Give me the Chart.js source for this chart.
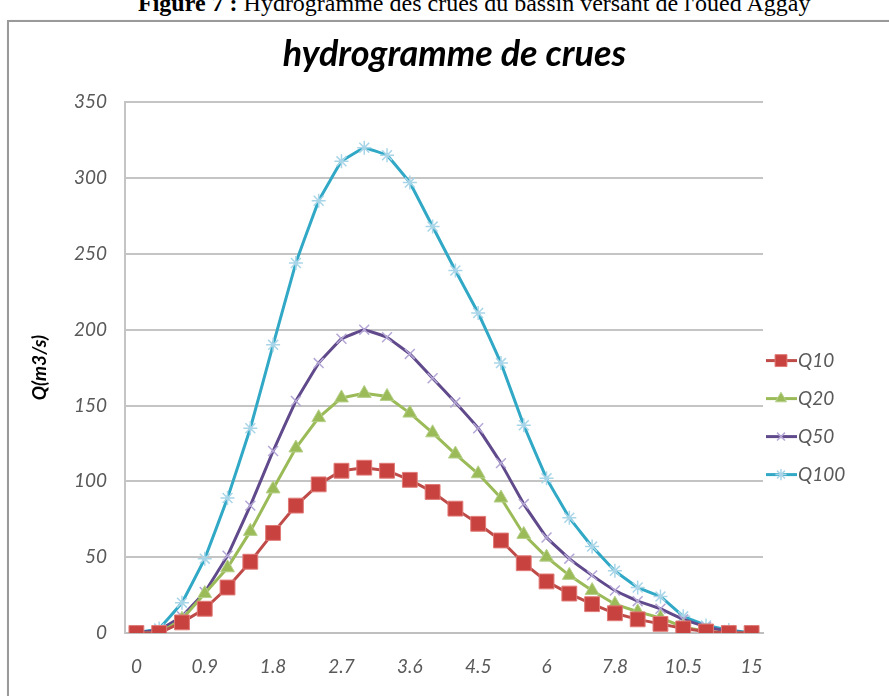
<!DOCTYPE html>
<html>
<head>
<meta charset="utf-8">
<script src="https://cdn.jsdelivr.net/npm/chart.js@4.4.1/dist/chart.umd.min.js"></script>
<style>
  html, body { margin: 0; padding: 0; background: #fff; overflow: hidden; }
  #caption {
    position: absolute; left: 138px; top: -9px;
    font-family: "Liberation Serif", serif; font-size: 24px; line-height: 24px;
    white-space: nowrap; color: #000;
  }
  #frame {
    position: absolute; left: 7px; top: 20px; width: 900px; height: 700px;
    border: 2px solid #9a9a9a; box-shadow: 1px 1px 2px #bbb;
  }
  #chart { position: absolute; left: 0; top: 0; }
</style>
</head>
<body>
<div id="caption"><b>Figure 7 :</b> Hydrogramme des crues du bassin versant de l'oued Aggay</div>
<div id="frame"></div>
<canvas id="chart" width="889" height="696"></canvas>
<script>
// temps (h) - une étiquette sur trois est affichée
var temps = ['0', '0.3', '0.6', '0.9', '1.2', '1.5', '1.8', '2.1', '2.4', '2.7', '3', '3.3', '3.6', '3.9',
             '4.2', '4.5', '5', '5.5', '6', '6.6', '7.2', '7.8', '8.7', '9.6', '10.5', '12', '13.5', '15'];

var q10  = [0, 0, 7, 16, 30, 47, 66, 84, 98, 107, 109, 107, 101, 93, 82, 72, 61, 46, 34, 26, 19, 13, 9, 6, 3, 1, 0, 0];
var q20  = [0, 0, 9, 26, 43, 67, 95, 122, 142, 155, 158, 156, 145, 132, 118, 105, 89, 65, 50, 38, 28, 19, 14, 10, 4, 1, 0, 0];
var q50  = [0, 2, 11, 27, 51, 84, 120, 153, 178, 194, 200, 195, 184, 168, 152, 135, 112, 85, 63, 49, 38, 28, 21, 16, 9, 4, 1, 0];
var q100 = [0, 3, 20, 49, 89, 135, 190, 244, 285, 311, 320, 315, 297, 268, 239, 211, 178, 137, 102, 76, 57, 41, 30, 24, 11, 5, 2, 0];

var font = 'Lato';
var gris = '#595959';

// legende facon Excel : trait + marqueur au milieu
var legendeExcel = {
    id: 'legendeExcel',
    afterDraw: function (chart) {
        var ctx = chart.ctx;
        var area = chart.chartArea;
        var sets = chart.data.datasets;
        var x0 = area.right + 3;
        var yMid = (area.top + area.bottom) / 2 + 50;
        var pas = 38;
        var y0 = yMid - pas * (sets.length - 1) / 2;
        ctx.save();
        sets.forEach(function (ds, i) {
            var y = y0 + i * pas;
            ctx.strokeStyle = ds.borderColor;
            ctx.lineWidth = 3;
            ctx.beginPath();
            ctx.moveTo(x0, y);
            ctx.lineTo(x0 + 31, y);
            ctx.stroke();
            ctx.fillStyle = ds.pointBackgroundColor;
            ctx.strokeStyle = ds.pointBorderColor;
            ctx.lineWidth = ds.pointBorderWidth;
            Chart.helpers.drawPoint(ctx, {
                pointStyle: ds.pointStyle, radius: ds.pointRadius * 0.8,
                rotation: 0, borderWidth: ds.pointBorderWidth
            }, x0 + 15, y);
            ctx.fillStyle = gris;
            ctx.font = 'italic 19px ' + font;
            ctx.textBaseline = 'middle';
            ctx.fillText(ds.label, x0 + 32, y);
        });
        ctx.restore();
    }
};

new Chart(document.getElementById('chart'), {
    type: 'line',
    data: {
        labels: temps,
        datasets: [
            {
                label: 'Q10',
                data: q10,
                borderColor: '#BE4B48',
                borderWidth: 3,
                pointStyle: 'rect',
                pointRadius: 10.5,
                pointBackgroundColor: '#C8433F',
                pointBorderColor: '#E07A77',
                pointBorderWidth: 1,
                tension: 0
            },
            {
                label: 'Q20',
                data: q20,
                borderColor: '#9BBB59',
                borderWidth: 3,
                pointStyle: 'triangle',
                pointRadius: 8,
                pointBackgroundColor: '#9BBB59',
                pointBorderColor: '#B5D08A',
                pointBorderWidth: 1,
                tension: 0
            },
            {
                label: 'Q50',
                data: q50,
                borderColor: '#604A8B',
                borderWidth: 3,
                pointStyle: 'crossRot',
                pointRadius: 7,
                pointBackgroundColor: '#B4A7D6',
                pointBorderColor: '#B4A7D6',
                pointBorderWidth: 1.5,
                tension: 0.05
            },
            {
                label: 'Q100',
                data: q100,
                borderColor: '#31A9C6',
                borderWidth: 3,
                pointStyle: 'star',
                pointRadius: 7,
                pointBackgroundColor: '#A9D5E8',
                pointBorderColor: '#A9D5E8',
                pointBorderWidth: 1.5,
                tension: 0.05
            }
        ]
    },
    options: {
        responsive: false,
        animation: false,
        layout: { padding: { left: 20, right: 0, top: 0, bottom: 14 } },
        plugins: {
            legend: { display: false },
            tooltip: { enabled: false },
            title: {
                display: true,
                text: 'hydrogramme de crues',
                color: '#000',
                font: { family: font, size: 36, weight: 'bold', style: 'italic' },
                padding: { top: 33, bottom: 26 }
            }
        },
        scales: {
            x: {
                offset: true,
                grid: { display: false, drawTicks: false },
                border: { display: true, color: '#BFBFBF', width: 2 },
                ticks: {
                    autoSkip: false,
                    maxRotation: 0,
                    padding: 22,
                    color: gris,
                    font: { family: font, size: 19, style: 'italic' },
                    callback: function (v, i) { return i % 3 === 0 ? temps[i] : ''; }
                },
                afterFit: function (s) { s.height = 49; }
            },
            y: {
                min: 0,
                max: 350,
                ticks: {
                    stepSize: 50,
                    padding: 18,
                    color: gris,
                    font: { family: font, size: 19, style: 'italic' }
                },
                grid: { color: '#C4C4C4', lineWidth: 2, drawTicks: false },
                border: { display: true, color: '#C4C4C4', width: 2 },
                title: {
                    display: true,
                    text: 'Q(m3/s)',
                    color: '#000',
                    font: { family: font, size: 19, weight: 'bold', style: 'italic' },
                    padding: { top: 8, bottom: 0 }
                },
                afterFit: function (s) { s.width = 105; }
            },
            // place reservee a la legende, a droite
            legende: {
                position: 'right',
                display: true,
                grid: { display: false, drawTicks: false },
                border: { display: false },
                ticks: { display: false },
                afterFit: function (s) { s.width = 126; }
            }
        }
    },
    plugins: [legendeExcel]
});
</script>
</body>
</html>
